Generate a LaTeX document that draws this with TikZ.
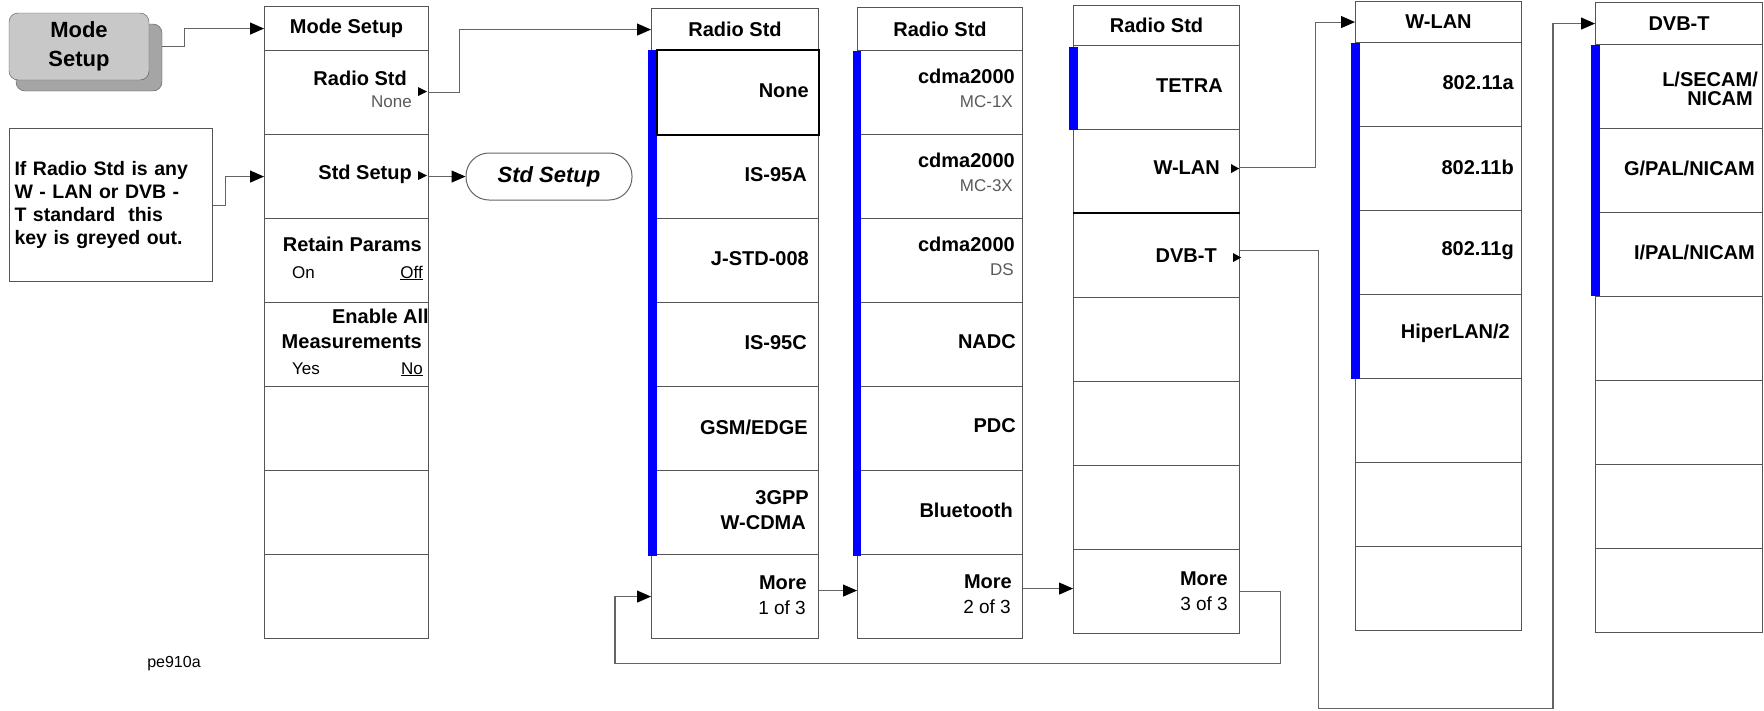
\documentclass[tikz,border=0pt]{standalone}
\usepackage{fontspec}
\setmainfont{Liberation Sans}
\usetikzlibrary{arrows.meta}
\definecolor{mline}{RGB}{85,85,85}
\definecolor{conn}{RGB}{100,100,100}
\definecolor{subgrey}{RGB}{90,90,90}
\definecolor{barblue}{RGB}{0,0,255}
\definecolor{btnface}{RGB}{200,200,200}
\definecolor{btnshade}{RGB}{165,165,165}
\begin{document}
\begin{tikzpicture}[x=1pt,y=-1pt,
 keybox/.style={draw=mline, line width=1.1pt, fill=white, minimum height=84pt, inner sep=0pt, anchor=north west},
 titlebox/.style={draw=mline, line width=1.1pt, fill=white, inner sep=0pt, anchor=north west, font=\fontsize{20}{22}\selectfont\bfseries},
 lbl/.style={inner sep=0pt, anchor=east, font=\fontsize{20}{22}\selectfont\bfseries},
 sub/.style={inner sep=0pt, anchor=east, font=\fontsize{17}{19}\selectfont, text=subgrey},
 opt/.style={inner sep=0pt, font=\fontsize{17}{19}\selectfont},
 more/.style={inner sep=0pt, anchor=east, font=\fontsize{19}{21}\selectfont},
 connector/.style={draw=conn, line width=1.1pt},
 arr/.style={connector, -{Triangle[length=14pt,width=12pt,color=black]}},
 bar/.style={fill=barblue},
]
\useasboundingbox (0,0) rectangle (1764,710);

% ---- Mode Setup hardkey
\node[draw=mline, fill=btnshade, rounded corners=9pt, minimum width=146pt, minimum height=67pt, inner sep=0pt] (btnsh) at (89,57.5) {};
\node[draw=mline, fill=btnface, rounded corners=9pt, minimum width=140pt, minimum height=67pt, inner sep=0pt, align=center, font=\fontsize{22}{29}\selectfont\bfseries] (btn) at (79,46.5) {Mode\\Setup};

% ---- note
\node[draw=mline, line width=1.1pt, anchor=north west, minimum height=153pt, text width=193pt, inner xsep=5pt, inner ysep=0pt, align=left, font=\fontsize{19.5}{23}\selectfont\bfseries] (note) at (9,128) {If Radio Std is any\\W - LAN or DVB -\\T standard\ \ this\\key is greyed out.};

% ---- Mode Setup menu
\node[titlebox, minimum width=164pt, minimum height=44pt] (mst) at (264,6) {Mode Setup};
\foreach \i in {1,...,7} \node[keybox, minimum width=164pt] (msk\i) at (264,{50+84*(\i-1)}) {};

% ---- Radio Std menus
\node[titlebox, minimum width=167pt, minimum height=42pt] (r1t) at (651,8) {Radio Std};
\foreach \i in {1,...,7} \node[keybox, minimum width=167pt] (r1k\i) at (651,{50+84*(\i-1)}) {};
\node[titlebox, minimum width=165pt, minimum height=43pt] (r2t) at (857,7) {Radio Std};
\foreach \i in {1,...,7} \node[keybox, minimum width=165pt] (r2k\i) at (857,{50+84*(\i-1)}) {};
\node[titlebox, minimum width=166pt, minimum height=40pt] (r3t) at (1073,5) {Radio Std};
\foreach \i in {1,...,7} \node[keybox, minimum width=166pt] (r3k\i) at (1073,{45+84*(\i-1)}) {};
\draw[black, line width=1.3pt] (r3k3.north west) -- (r3k3.north east);

% ---- W-LAN and DVB-T menus
\node[titlebox, minimum width=166pt, minimum height=41pt] (wlt) at (1355,1) {W-LAN};
\foreach \i in {1,...,7} \node[keybox, minimum width=166pt] (wlk\i) at (1355,{42+84*(\i-1)}) {};
\node[titlebox, minimum width=167pt, minimum height=42pt] (dvt) at (1595,2) {DVB-T};
\foreach \i in {1,...,7} \node[keybox, minimum width=167pt] (dvk\i) at (1595,{44+84*(\i-1)}) {};

% ---- blue bars
\fill[bar] (648,50) rectangle (657,556);
\fill[bar] (853,51) rectangle (861,556);
\fill[bar] (1069,47) rectangle (1078,130);
\fill[bar] (1351,43) rectangle (1360,379);
\fill[bar] (1591,45) rectangle (1600,296);
\draw[black, line width=2.5pt] ([xshift=6pt]r1k1.north west) rectangle (r1k1.south east);

% ---- Std Setup oval
\node[draw=conn, line width=1pt, rounded corners=23pt, minimum width=166pt, minimum height=47pt, font=\fontsize{22}{24}\selectfont\bfseries\itshape] (stdsetup) at (549,176.5) {Std Setup};

% ---- Mode Setup labels
\node[lbl] (lrs) at (407,78) {Radio Std};
\node[sub] (lrsn) at (412,102) {None};
\node[lbl] (lss) at (412,174) {Std Setup};
\node[lbl] (lrp) at (422,244) {Retain Params};
\node[opt, anchor=base west] (lon) at (292,278) {On};
\node[opt, anchor=base east] (loff) at (423,278) {\underline{Off}};
\node[lbl] (lea) at (429,316) {Enable All};
\node[lbl] (lme) at (422,342) {Measurements};
\node[opt, anchor=base west] (lyes) at (292,374) {Yes};
\node[opt, anchor=base east] (lno) at (423,374) {\underline{No}};
\fill ([xshift=-2pt,yshift=1pt]msk1.east) -- ++(-9,-4.5) -- ++(0,9) -- cycle;
\fill ([xshift=-2pt,yshift=1pt]msk2.east) -- ++(-9,-4.5) -- ++(0,9) -- cycle;

% ---- Radio Std 1 labels
\node[lbl] (la1) at (809,91) {None};
\node[lbl] (la2) at (807,175) {IS-95A};
\node[lbl] (la3) at (809,259) {J-STD-008};
\node[lbl] (la4) at (807,343) {IS-95C};
\node[lbl] (la5) at (808,427) {GSM/EDGE};
\node[lbl] (la6) at (809,498) {3GPP};
\node[lbl] (la6b) at (806,523) {W-CDMA};
\node[lbl] (la7) at (807,583) {More};
\node[more] (la7b) at (806,608) {1 of 3};

% ---- Radio Std 2 labels
\node[lbl] (lb1) at (1015,76) {cdma2000};
\node[sub] (lb1b) at (1013,102) {MC-1X};
\node[lbl] (lb2) at (1015,160) {cdma2000};
\node[sub] (lb2b) at (1013,186) {MC-3X};
\node[lbl] (lb3) at (1015,244) {cdma2000};
\node[sub] (lb3b) at (1014,270) {DS};
\node[lbl] (lb4) at (1016,342) {NADC};
\node[lbl] (lb5) at (1016,426) {PDC};
\node[lbl] (lb6) at (1013,510) {Bluetooth};
\node[lbl] (lb7) at (1012,582) {More};
\node[more] (lb7b) at (1011,607) {2 of 3};

% ---- Radio Std 3 labels
\node[lbl] (lc1) at (1223,86) {TETRA};
\node[lbl] (lc2) at (1220,168) {W-LAN};
\node[lbl] (lc3) at (1217,256) {DVB-T};
\node[lbl] (lc7) at (1228,579) {More};
\node[more] (lc7b) at (1228,604) {3 of 3};
\fill ([xshift=-1pt,yshift=3pt]r3k2.east) -- ++(-8,-4.5) -- ++(0,9) -- cycle;
\fill ([xshift=1pt,yshift=-2pt]r3k3.east) -- ++(-8,-4.5) -- ++(0,9) -- cycle;

% ---- W-LAN labels
\node[lbl] (ld1) at (1514,83) {802.11a};
\node[lbl] (ld2) at (1514,167) {802.11b};
\node[lbl] (ld3) at (1514,251) {802.11g};
\node[lbl] (ld4) at (1510,333) {HiperLAN/2};

% ---- DVB-T labels
\node[lbl] (le1) at (1758,79) {L/SECAM/};
\node[lbl] (le1b) at (1753,99) {NICAM};
\node[lbl] (le2) at (1755,168) {G/PAL/NICAM};
\node[lbl] (le3) at (1755,252) {I/PAL/NICAM};

% ---- figure code
\node[font=\fontsize{16}{18}\selectfont, inner sep=0pt] (code) at (174,664) {pe910a};

% ---- connectors
\draw[arr] (btnsh.east |- btn.center) -- ++(22,0) |- (mst.west);
\draw[arr] (note.east) -- ++(12,0) |- (msk2.west);
\draw[arr] (msk1.east) -- ++(30,0) |- (r1t.west);
\draw[arr] (msk2.east) -- (stdsetup.west |- msk2.east);
\draw[arr] ([yshift=6pt]r1k7.east) -- ([yshift=6pt]r1k7.east -| r2k7.west);
\draw[arr] ([yshift=8pt]r2k7.east) -- ([yshift=8pt]r2k7.east -| r3k7.west);
\draw[arr] (r3k7.east) -- ++(40,0) -- ++(0,72) -| ([xshift=-36pt]r1k7.west) -- (r1k7.west);
\draw[arr] ([yshift=4pt]r3k2.east) -- ++(75,0) |- (wlt.west);
\draw[arr] ([yshift=5pt]r3k3.east) -- ++(78,0) -- ++(0,458) -| ([xshift=-42pt]dvt.west) -- (dvt.west);
\end{tikzpicture}
\end{document}
